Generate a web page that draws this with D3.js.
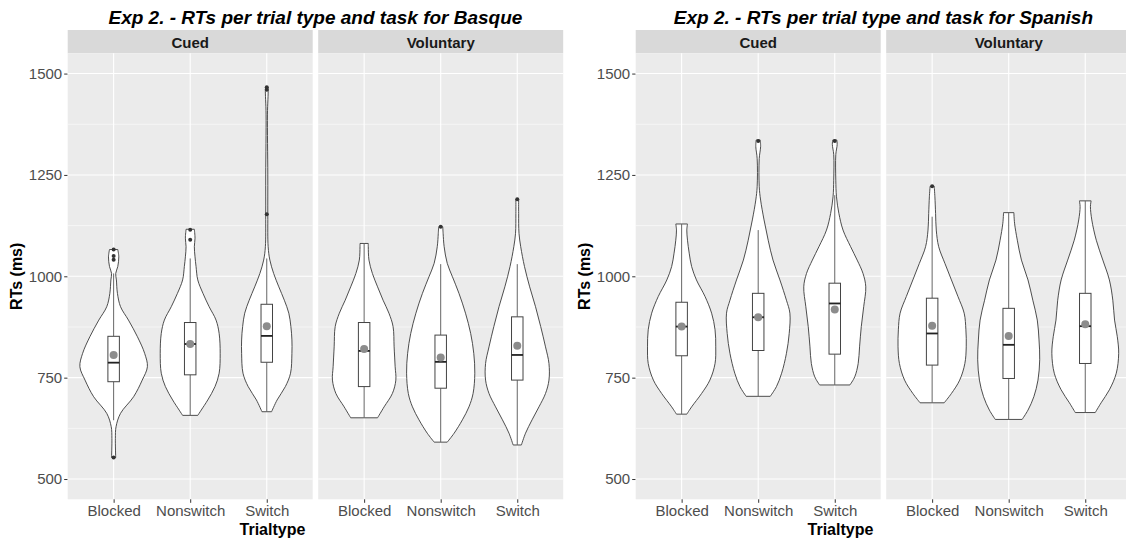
<!DOCTYPE html>
<html>
<head>
<meta charset="utf-8">
<script src="https://cdn.jsdelivr.net/npm/d3@7"></script>
<style>
  body { margin: 0; background: #fff; }
  svg { display: block; font-family: "Liberation Sans", Arial, sans-serif; }
</style>
</head>
<body>
<div id="chart"></div>
<script>
// Data___________________________________________________________
const languages = ["Basque", "Spanish"];
const tasks = ["Cued", "Voluntary"];
const trialTypes = ["Blocked", "Nonswitch", "Switch"];
const yTicks = [500, 750, 1000, 1250, 1500];
const yMinorTicks = [625, 875, 1125, 1375];

// violin outlines, [RT, relative density] per trial type
const basqueCuedViolins = [
  [[553,0.06],[600,0.05],[629,0.07],[662,0.2],[703,0.58],[744,0.83],[777,0.98],[810,0.9],[851,0.69],[892,0.43],[925,0.2],[958,0.11],[991,0.08],[1007,0.06],[1024,0.12],[1048,0.15],[1066,0.12]],
  [[657,0.22],[670,0.32],[695,0.51],[728,0.72],[761,0.84],[810,0.87],[859,0.84],[892,0.75],[925,0.55],[958,0.37],[991,0.22],[1024,0.17],[1048,0.14],[1073,0.12],[1094,0.14],[1116,0.12]],
  [[666,0.14],[695,0.3],[728,0.54],[761,0.69],[810,0.73],[843,0.73],[876,0.7],[909,0.64],[941,0.51],[974,0.35],[1007,0.2],[1040,0.09],[1073,0.04],[1150,0.03],[1250,0.03],[1400,0.02],[1460,0.04],[1467,0.03]]
];
const basqueVoluntaryViolins = [
  [[651,0.39],[678,0.58],[711,0.82],[744,0.92],[777,0.9],[826,0.87],[876,0.84],[909,0.72],[941,0.55],[974,0.39],[1007,0.24],[1040,0.14],[1073,0.12],[1081,0.12]],
  [[591,0.19],[613,0.39],[646,0.63],[678,0.82],[711,0.94],[761,0.99],[810,0.96],[859,0.87],[909,0.72],[958,0.53],[999,0.34],[1032,0.19],[1073,0.1],[1106,0.07],[1122,0.06]],
  [[584,0.12],[613,0.24],[646,0.43],[678,0.63],[711,0.82],[744,0.92],[785,0.92],[826,0.82],[876,0.68],[925,0.53],[974,0.36],[1024,0.21],[1073,0.1],[1106,0.05],[1155,0.04],[1190,0.04]]
];
const spanishCuedViolins = [
  [[660,0.15],[678,0.29],[711,0.58],[744,0.82],[785,0.97],[826,0.99],[868,0.97],[909,0.87],[950,0.68],[991,0.43],[1024,0.29],[1057,0.22],[1089,0.17],[1114,0.15],[1129,0.17]],
  [[704,0.35],[728,0.53],[761,0.68],[810,0.82],[859,0.9],[909,0.92],[941,0.82],[991,0.63],[1040,0.43],[1089,0.29],[1139,0.17],[1188,0.07],[1221,0.03],[1290,0.03],[1320,0.07],[1336,0.06]],
  [[732,0.44],[752,0.58],[785,0.68],[826,0.72],[876,0.77],[925,0.84],[974,0.9],[1007,0.82],[1040,0.65],[1073,0.46],[1114,0.24],[1155,0.12],[1196,0.05],[1237,0.03],[1300,0.03],[1325,0.07],[1336,0.06]]
];
const spanishVoluntaryViolins = [
  [[688,0.35],[711,0.56],[744,0.8],[785,0.95],[826,0.99],[868,0.98],[909,0.93],[950,0.75],[991,0.56],[1032,0.37],[1073,0.19],[1114,0.12],[1155,0.1],[1196,0.08],[1222,0.06]],
  [[647,0.39],[670,0.56],[703,0.73],[744,0.85],[794,0.9],[843,0.88],[892,0.83],[941,0.7],[991,0.56],[1040,0.37],[1089,0.25],[1131,0.17],[1157,0.15]],
  [[664,0.29],[688,0.46],[720,0.7],[761,0.9],[810,0.97],[851,0.93],[892,0.85],[941,0.8],[991,0.7],[1040,0.51],[1089,0.32],[1139,0.19],[1172,0.15],[1186,0.17]]
];

// boxplot stats: [lower whisker, Q1, median, Q3, upper whisker]
const basqueCuedBoxes = [[645,740,787,852,1007],[657,757,833,886,1044],[666,788,853,931,1044]];
const basqueVoluntaryBoxes = [[651,728,816,886,1081],[591,724,789,855,1030],[584,744,806,900,1030]];
const spanishCuedBoxes = [[660,804,876,936,1129],[704,817,899,958,1114],[732,808,933,983,1200]];
const spanishVoluntaryBoxes = [[688,781,859,946,1147],[647,748,831,921,1157],[664,785,877,958,1186]];

const basqueCuedMeans = [806, 833, 877];
const basqueVoluntaryMeans = [821, 800, 829];
const spanishCuedMeans = [876, 899, 918];
const spanishVoluntaryMeans = [878, 853, 882];

const basqueCuedOutliers = [[553,1041,1050,1066],[1090,1115],[1153,1460,1466]];
const basqueVoluntaryOutliers = [[],[1122],[1190]];
const spanishCuedOutliers = [[],[1334],[1334]];
const spanishVoluntaryOutliers = [[1222],[],[]];

const facetData = {
  Basque: {
    Cued: {violins: basqueCuedViolins, boxes: basqueCuedBoxes, means: basqueCuedMeans, outliers: basqueCuedOutliers},
    Voluntary: {violins: basqueVoluntaryViolins, boxes: basqueVoluntaryBoxes, means: basqueVoluntaryMeans, outliers: basqueVoluntaryOutliers}
  },
  Spanish: {
    Cued: {violins: spanishCuedViolins, boxes: spanishCuedBoxes, means: spanishCuedMeans, outliers: spanishCuedOutliers},
    Voluntary: {violins: spanishVoluntaryViolins, boxes: spanishVoluntaryBoxes, means: spanishVoluntaryMeans, outliers: spanishVoluntaryOutliers}
  }
};

// Layout__________________________________________________________
const width = 1126, height = 539;
const panelLeft = [67.7, 635.7];
const facetWidth = 245;
const facetGap = 5.5;
const stripTop = 30, plotTop = 53.3, plotBottom = 499.3;

const svg = d3.select('#chart')
  .append('svg')
  .attr('width', width)
  .attr('height', height);

const y = d3.scaleLinear()
  .domain([450, 1550])
  .range([plotBottom, plotTop]);

languages.forEach((lang, li) => {
  const px0 = panelLeft[li];
  const pxMid = px0 + facetWidth + facetGap / 2;

  // Title
  svg.append('text')
    .attr('x', pxMid)
    .attr('y', 24)
    .attr('text-anchor', 'middle')
    .style('font-size', '19px')
    .style('font-weight', 'bold')
    .style('font-style', 'italic')
    .style('fill', '#000')
    .text(`Exp 2. - RTs per trial type and task for ${lang}`);

  // Y axis title
  svg.append('text')
    .attr('transform', `translate(${px0 - 46}, ${(plotTop + plotBottom) / 2}) rotate(-90)`)
    .attr('text-anchor', 'middle')
    .style('font-size', '16px')
    .style('font-weight', 'bold')
    .style('fill', '#000')
    .text('RTs (ms)');

  // X axis title
  svg.append('text')
    .attr('x', pxMid - 43)
    .attr('y', 535)
    .attr('text-anchor', 'middle')
    .style('font-size', '16px')
    .style('font-weight', 'bold')
    .style('fill', '#000')
    .text('Trialtype');

  // Y axis
  const yAxis = svg.append('g')
    .attr('transform', `translate(${px0}, 0)`)
    .call(d3.axisLeft(y).tickValues(yTicks).tickFormat(d3.format('d')).tickSize(3.5).tickPadding(2));
  yAxis.select('.domain').remove();
  yAxis.selectAll('line').attr('stroke', '#333');
  yAxis.selectAll('text')
    .style('font-size', '15px')
    .style('font-family', '"Liberation Sans", Arial, sans-serif')
    .attr('fill', '#4d4d4d');

  tasks.forEach((task, ti) => {
    const fx0 = px0 + ti * (facetWidth + facetGap);
    const fx1 = fx0 + facetWidth;
    const d = facetData[lang][task];

    const x = d3.scalePoint()
      .domain(trialTypes)
      .range([fx0, fx1])
      .padding(0.6);
    const step = x.step();
    const w = d3.scaleLinear().domain([0, 1]).range([0, 0.45 * step]);
    const boxHalf = 0.075 * step;

    // Strip
    svg.append('rect')
      .attr('x', fx0).attr('y', stripTop)
      .attr('width', facetWidth).attr('height', plotTop - stripTop)
      .attr('fill', '#d9d9d9');
    svg.append('text')
      .attr('x', (fx0 + fx1) / 2)
      .attr('y', 47.5)
      .attr('text-anchor', 'middle')
      .style('font-size', '15px')
      .style('font-weight', 'bold')
      .style('fill', '#1a1a1a')
      .text(task);

    // Panel background
    svg.append('rect')
      .attr('x', fx0).attr('y', plotTop)
      .attr('width', facetWidth).attr('height', plotBottom - plotTop)
      .attr('fill', '#ebebeb');

    const grid = svg.append('g');
    grid.selectAll('.minor')
      .data(yMinorTicks)
      .enter().append('line')
      .attr('x1', fx0).attr('x2', fx1)
      .attr('y1', v => y(v)).attr('y2', v => y(v))
      .attr('stroke', '#fff').attr('stroke-width', 0.55);
    grid.selectAll('.major')
      .data(yTicks)
      .enter().append('line')
      .attr('x1', fx0).attr('x2', fx1)
      .attr('y1', v => y(v)).attr('y2', v => y(v))
      .attr('stroke', '#fff').attr('stroke-width', 1.1);
    grid.selectAll('.vmajor')
      .data(trialTypes)
      .enter().append('line')
      .attr('x1', c => x(c)).attr('x2', c => x(c))
      .attr('y1', plotTop).attr('y2', plotBottom)
      .attr('stroke', '#fff').attr('stroke-width', 1.1);

    // X axis
    const xAxis = svg.append('g')
      .attr('transform', `translate(0, ${plotBottom})`)
      .call(d3.axisBottom(x).tickSize(3.5).tickPadding(3));
    xAxis.select('.domain').remove();
    xAxis.selectAll('line').attr('stroke', '#333');
    xAxis.selectAll('text')
      .style('font-size', '15px')
      .style('font-family', '"Liberation Sans", Arial, sans-serif')
      .attr('fill', '#4d4d4d');

    trialTypes.forEach((tt, i) => {
      const cx = x(tt);
      const g = svg.append('g');

      // Violin
      const area = d3.area()
        .y(p => y(p[0]))
        .x0(p => cx - w(p[1]))
        .x1(p => cx + w(p[1]))
        .curve(d3.curveCatmullRom.alpha(0.5));
      g.append('path')
        .datum(d.violins[i])
        .attr('d', area)
        .attr('fill', '#fff')
        .attr('stroke', '#3a3a3a')
        .attr('stroke-width', 0.9);

      // Box
      const [lo, q1, med, q3, hi] = d.boxes[i];
      g.append('line')
        .attr('x1', cx).attr('x2', cx)
        .attr('y1', y(q3)).attr('y2', y(hi))
        .attr('stroke', '#666').attr('stroke-width', 1);
      g.append('line')
        .attr('x1', cx).attr('x2', cx)
        .attr('y1', y(q1)).attr('y2', y(lo))
        .attr('stroke', '#666').attr('stroke-width', 1);
      g.append('rect')
        .attr('x', cx - boxHalf)
        .attr('y', y(q3))
        .attr('width', 2 * boxHalf)
        .attr('height', y(q1) - y(q3))
        .attr('fill', '#fff')
        .attr('stroke', '#444').attr('stroke-width', 1);
      g.append('line')
        .attr('x1', cx - boxHalf).attr('x2', cx + boxHalf)
        .attr('y1', y(med)).attr('y2', y(med))
        .attr('stroke', '#222').attr('stroke-width', 1.8);

      // Outliers
      g.selectAll('.outlier')
        .data(d.outliers[i])
        .enter().append('circle')
        .attr('cx', cx).attr('cy', v => y(v))
        .attr('r', 2)
        .attr('fill', '#333');

      // Mean
      g.append('circle')
        .attr('cx', cx).attr('cy', y(d.means[i]))
        .attr('r', 4)
        .attr('fill', '#8c8c8c');
    });
  });
});
</script>
</body>
</html>
